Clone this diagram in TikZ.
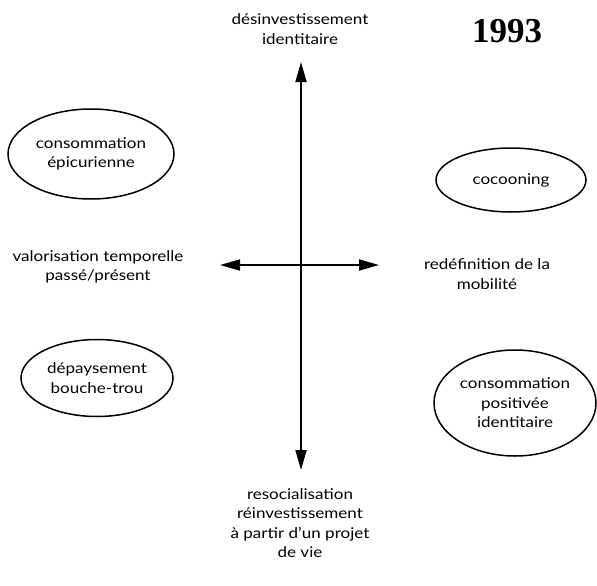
\documentclass[tikz,border=0pt]{standalone}
\usepackage{fontspec}
\setmainfont{Lato}[FakeStretch=1.15]
\newfontfamily\yearfont{Liberation Serif}
\usepackage{tikz}
\usetikzlibrary{arrows.meta,shapes}

\begin{document}
\begin{tikzpicture}[x=1pt,y=-1pt,
    ovalnode/.style={ellipse, draw, line width=1.5pt, inner sep=0pt, align=center, font=\fontsize{14.8}{19.5}\selectfont},
    textnode/.style={align=center, font=\fontsize{14.8}{19.5}\selectfont},
    axisline/.style={line width=1.8pt, {Triangle[length=20pt,width=11pt]}-{Triangle[length=20pt,width=11pt]}}]

    \useasboundingbox (0,0) rectangle (597,586);

    % axes
    \coordinate (n) at (301,62);
    \coordinate (s) at (301,470);
    \coordinate (w) at (220,265);
    \coordinate (e) at (379,265);

    \draw[axisline] (s) -- (n);
    \draw[axisline] (w) -- (e);

    \node[textnode](t1) at (300,29) {désinvestissement\\identitaire};
    \node[font=\yearfont\bfseries\fontsize{35}{38}\selectfont](t2) at (507,31) {1993};
    \node[textnode](t3) at (98,267) {valorisation temporelle\\passé/présent};
    \node[textnode](t4) at (487,274) {redéfinition de la\\mobilité};
    \node[textnode](t5) at (300,523) {resocialisation\\réinvestissement\\à partir d'un projet\\de vie};

    % ellipses
    \node[ovalnode, minimum width=166pt, minimum height=90pt](u1) at (91,154) {consommation\\épicurienne};
    \node[ovalnode, minimum width=150pt, minimum height=64pt](u2) at (511,180) {cocooning};
    \node[ovalnode, minimum width=152pt, minimum height=77pt](u3) at (97,378) {dépaysement\\bouche-trou};
    \node[ovalnode, minimum width=162pt, minimum height=106pt](u4) at (515,403) {consommation\\positivée\\identitaire};

\end{tikzpicture}
\end{document}
